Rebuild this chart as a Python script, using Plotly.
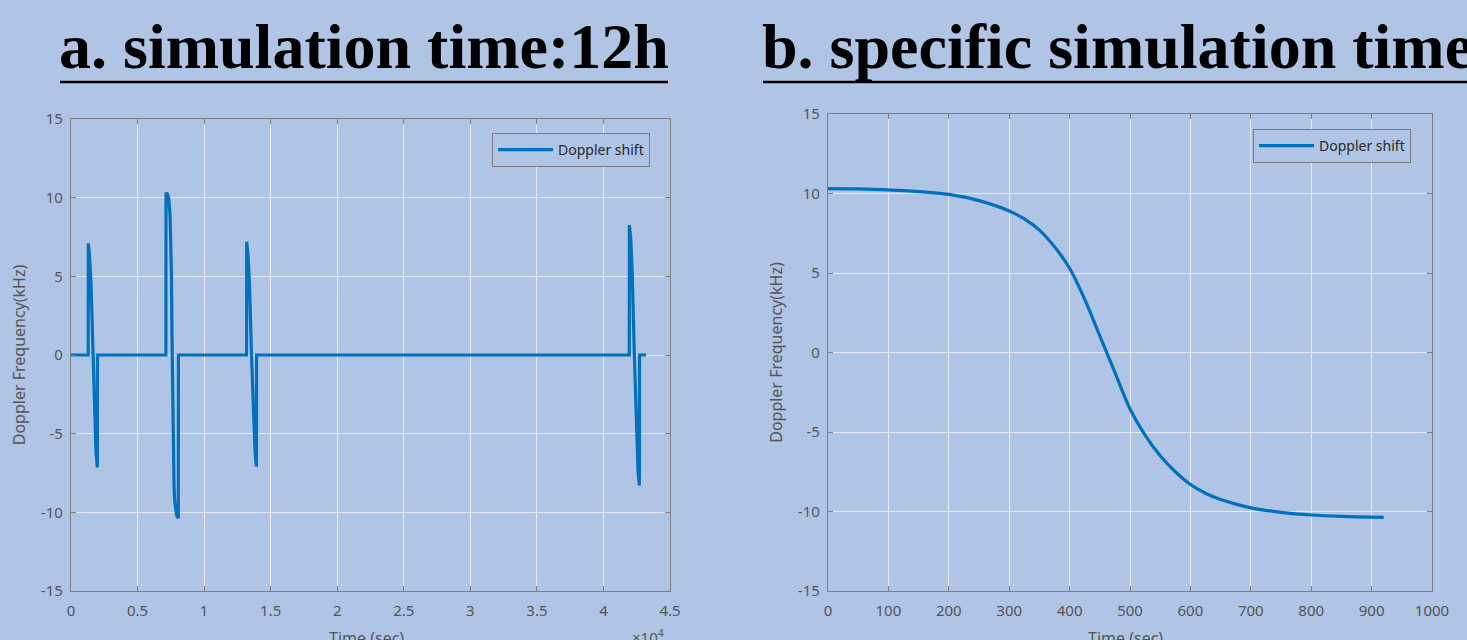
import plotly.graph_objects as go

# ---------------- data ----------------
left_time = [0, 1290, 1300, 1400, 1500, 1640, 1780, 1880, 1980, 1990,
             7130, 7140, 7240, 7340, 7440, 7490, 7540, 7590, 7640, 7690, 7740, 7790, 7840, 7940, 8060, 8070,
             13190, 13200, 13300, 13400, 13560, 13720, 13830, 13930, 13940,
             41940, 41950, 42050, 42150, 42320, 42500, 42600, 42700, 42710, 43200]
left_doppler = [0, 0, 7.1, 6.2, 4.6, 0, -4.6, -6.2, -7.15, 0,
                0, 10.31, 10.23, 9.94, 8.9, 7.7, 5.3, 1.05, -3.55, -6.5, -8.3, -9.25, -9.77, -10.22, -10.37, 0,
                0, 7.2, 6.3, 4.7, 0, -4.6, -6.2, -7.1, 0,
                0, 8.26, 7.4, 5.6, 0, -5.6, -7.4, -8.3, 0, 0]

right_time = [0, 50, 100, 150, 200, 250, 300, 325, 350, 375, 400, 425, 450, 475, 500, 525,
              550, 575, 600, 625, 650, 700, 750, 800, 850, 900, 920]
right_doppler = [10.31, 10.29, 10.23, 10.12, 9.94, 9.55, 8.9, 8.4, 7.7, 6.65, 5.3, 3.35, 1.05, -1.25,
                 -3.55, -5.2, -6.5, -7.5, -8.3, -8.85, -9.25, -9.77, -10.05, -10.22, -10.31, -10.36, -10.37]

left_xticks = [0, 5000, 10000, 15000, 20000, 25000, 30000, 35000, 40000, 45000]
left_xticktext = ["0", "0.5", "1", "1.5", "2", "2.5", "3", "3.5", "4", "4.5"]
right_xticks = [0, 100, 200, 300, 400, 500, 600, 700, 800, 900, 1000]
yticks = [-15, -10, -5, 0, 5, 10, 15]
yticktext = ["-15", "-10", "-5", "0", "5", "10", "15"]

title_a = "a. simulation time:12h"
title_b = "b. specific simulation time"
series_name = "Doppler shift"
x_title = "Time (sec)"
y_title = "Doppler Frequency(kHz)"

# ---------------- style ----------------
W, H = 1467, 640
BG = "rgb(176,196,229)"
GRID = "rgba(232,236,244,0.95)"
AXC = "rgb(125,125,125)"
TXT = "rgb(85,85,85)"
BLUE = "rgb(0,114,189)"
TICKFONT = dict(family="Noto Sans", size=15, color=TXT)
AXTITLEFONT = dict(family="Noto Sans", size=16, color=TXT)


def px_x(v):
    return v / W


def px_y(v):
    return (H - v) / H


fig = go.Figure()
fig.add_trace(go.Scatter(x=left_time, y=left_doppler, mode="lines", name=series_name,
                         line=dict(color=BLUE, width=3.2), xaxis="x", yaxis="y", legend="legend"))
fig.add_trace(go.Scatter(x=right_time, y=right_doppler, mode="lines", name=series_name,
                         line=dict(color=BLUE, width=3.2, shape="spline", smoothing=0.8),
                         xaxis="x2", yaxis="y2", legend="legend2"))

common_axis = dict(showline=True, linecolor=AXC, linewidth=1.3, mirror="allticks",
                   ticks="inside", ticklen=5, tickcolor=AXC, showgrid=True, gridcolor=GRID,
                   gridwidth=1.3, zeroline=False, tickfont=TICKFONT, automargin=False)

fig.update_layout(
    width=W, height=H,
    margin=dict(l=0, r=0, t=0, b=0, autoexpand=False),
    paper_bgcolor=BG, plot_bgcolor=BG,
    xaxis=dict(domain=[px_x(71), px_x(670)], range=[0, 45000], tickvals=left_xticks,
               ticktext=left_xticktext, anchor="y", ticklabelstandoff=6,
               **common_axis),
    yaxis=dict(domain=[px_y(591), px_y(119)], range=[-15, 15], tickvals=yticks, ticktext=yticktext,
               anchor="x", ticklabelstandoff=4,
               title=dict(text=y_title, font=AXTITLEFONT, standoff=11),
               **common_axis),
    xaxis2=dict(domain=[px_x(828), px_x(1432)], range=[0, 1000], tickvals=right_xticks,
                anchor="y2", ticklabelstandoff=6,
                **common_axis),
    yaxis2=dict(domain=[px_y(591), px_y(114)], range=[-15, 15], tickvals=yticks, ticktext=yticktext,
                anchor="x2", ticklabelstandoff=4,
                title=dict(text=y_title, font=AXTITLEFONT, standoff=11),
                **common_axis),
    legend=dict(x=px_x(492), y=px_y(133), xanchor="left", yanchor="top", bgcolor=BG,
                bordercolor=AXC, borderwidth=1, font=dict(family="Noto Sans", size=14, color="rgb(40,40,40)"),
                itemwidth=55),
    legend2=dict(x=px_x(1253), y=px_y(129), xanchor="left", yanchor="top", bgcolor=BG,
                 bordercolor=AXC, borderwidth=1, font=dict(family="Noto Sans", size=14, color="rgb(40,40,40)"),
                 itemwidth=55),
    showlegend=True,
)

# x-axis titles (partly below the visible page, as in the reference)
fig.add_annotation(text=x_title, xref="paper", yref="paper", x=px_x(366), y=px_y(638),
                   xanchor="center", yanchor="middle", showarrow=False, font=AXTITLEFONT)
fig.add_annotation(text=x_title, xref="paper", yref="paper", x=px_x(1125), y=px_y(638),
                   xanchor="center", yanchor="middle", showarrow=False, font=AXTITLEFONT)

# panel titles
fig.add_annotation(text="<b>" + title_a + "</b>", xref="paper", yref="paper",
                   x=px_x(364), y=px_y(46), xanchor="center", yanchor="middle", showarrow=False,
                   font=dict(family="Liberation Serif", size=64, color="black"))
fig.add_annotation(text="<b>" + title_b + "</b>", xref="paper", yref="paper",
                   x=px_x(760), y=px_y(46), xanchor="left", yanchor="middle", showarrow=False,
                   font=dict(family="Liberation Serif", size=64, color="black"))
fig.add_shape(type="line", xref="paper", yref="paper", x0=px_x(60), x1=px_x(668),
              y0=px_y(82), y1=px_y(82), line=dict(color="black", width=2.5))
fig.add_shape(type="line", xref="paper", yref="paper", x0=px_x(763), x1=px_x(1467),
              y0=px_y(82), y1=px_y(82), line=dict(color="black", width=2.5))

# exponent label
fig.add_annotation(text="\u00d710<sup>4</sup>", xref="paper", yref="paper",
                   x=px_x(648), y=px_y(624), xanchor="center", yanchor="top", showarrow=False,
                   font=dict(family="Noto Sans", size=15, color=TXT))

fig.write_html("out.html", config={"displayModeBar": False},
               post_script="document.body.style.margin='0';document.body.style.overflow='hidden';")
